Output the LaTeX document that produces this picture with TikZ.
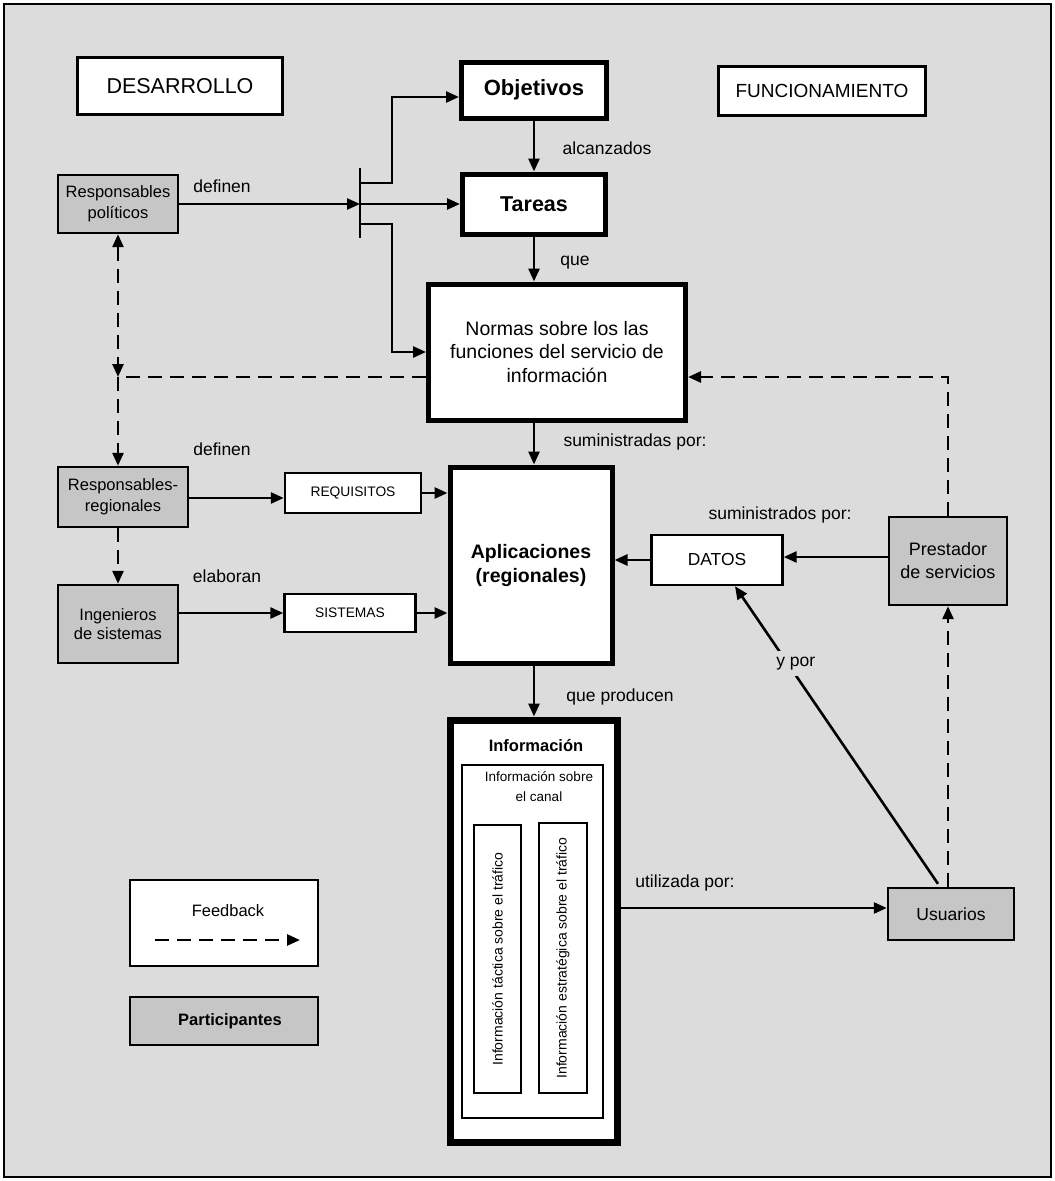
\documentclass[tikz,border=0pt]{standalone}
\usepackage{fontspec}
\setmainfont{Liberation Sans}
\usetikzlibrary{arrows.meta,calc}
\definecolor{bg}{HTML}{DCDCDC}
\definecolor{partc}{HTML}{C6C6C6}
\begin{document}
\begin{tikzpicture}[x=1pt,y=-1pt,
  box/.style={draw, fill=white, line width=2.4pt, inner sep=0pt, align=center},
  pbox/.style={box, fill=partc},
  tbox/.style={box, line width=5pt},
  arr/.style={line width=2.6pt, -{Triangle[length=13pt,width=11pt]}},
  fbline/.style={line width=2.6pt, dash pattern=on 14pt off 8pt},
  fb/.style={fbline, -{Triangle[length=13pt,width=11pt]}},
  fbboth/.style={fbline, {Triangle[length=13pt,width=11pt]}-{Triangle[length=13pt,width=11pt]}},
  lbl/.style={inner sep=1pt, font=\fontsize{17.5}{20}\selectfont}
]
\useasboundingbox (0,0) rectangle (1055,1181);
\fill[white] (0,0) rectangle (1055,1181);
\draw[fill=bg, line width=2pt] (4,4) rectangle (1051,1177);

% headers
\node[box, minimum width=205, minimum height=57, font=\fontsize{21.5}{24}\selectfont] (des) at (180,86) {DESARROLLO};
\node[box, minimum width=207, minimum height=49, font=\fontsize{19}{22}\selectfont] (fun) at (822,91) {FUNCIONAMIENTO};

% main column
\node[tbox, minimum width=145, minimum height=56, font=\bfseries\fontsize{22}{24}\selectfont] (obj) at (534,90) {Objetivos};
\node[tbox, minimum width=143, minimum height=60, font=\bfseries\fontsize{21.5}{24}\selectfont] (tar) at (534,204) {Tareas};
\node[tbox, minimum width=257, minimum height=136, font=\fontsize{19.5}{23.5}\selectfont] (nor) at (557,352) {Normas sobre los las\\funciones del servicio de\\información};
\node[tbox, minimum width=162, minimum height=196, font=\bfseries\fontsize{19.5}{24}\selectfont] (apl) at (531,565) {Aplicaciones\\(regionales)};

% participants
\node[pbox, minimum width=120, minimum height=58, font=\fontsize{16.5}{21}\selectfont] (rpol) at (118,204) {Responsables\\políticos};
\node[pbox, minimum width=130, minimum height=60, font=\fontsize{16.5}{21}\selectfont] (rreg) at (123,497) {Responsables-\\regionales};
\node[pbox, minimum width=120, minimum height=78, font=\fontsize{16.5}{19}\selectfont] (ing) at (118,624) {Ingenieros\\de sistemas};
\node[pbox, minimum width=118, minimum height=88, font=\fontsize{18}{23}\selectfont] (pre) at (948,561) {Prestador\\de servicios};
\node[pbox, minimum width=126, minimum height=52, font=\fontsize{17.5}{20}\selectfont] (usr) at (951,914) {Usuarios};

% small boxes
\node[box, minimum width=136, minimum height=40, font=\fontsize{13.8}{16}\selectfont] (req) at (353,493) {REQUISITOS};
\node[box, minimum width=131, minimum height=38, font=\fontsize{13.8}{16}\selectfont] (sis) at (350,613) {SISTEMAS};
\node[box, minimum width=131, minimum height=50, font=\fontsize{17.4}{20}\selectfont] (dat) at (717,560) {DATOS};

% Información
\node[box, line width=7pt, minimum width=167, minimum height=422] (inf) at (533.5,931) {};
\node[inner sep=0pt, font=\bfseries\fontsize{16.5}{20}\selectfont] (inft) at (536,746) {Información};
\node[box, minimum width=141, minimum height=353] (can) at (532.5,941.5) {};
\node[inner sep=0pt, align=center, font=\fontsize{13.5}{20}\selectfont] (cant) at (539,787) {Información sobre\\el canal};
\node[box, rotate=90, minimum width=268, minimum height=47, font=\fontsize{14}{16}\selectfont] (tac) at (497.5,959) {Información táctica sobre el tráfico};
\node[box, rotate=90, minimum width=270, minimum height=48, font=\fontsize{14}{16}\selectfont] (est) at (563,958) {Información estratégica sobre el tráfico};

% legend
\node[box, minimum width=188, minimum height=86] (leg) at (224,923) {};
\node[inner sep=0pt, font=\fontsize{16.5}{20}\selectfont] (legt) at (228,911) {Feedback};
\coordinate (la) at (155,940);
\coordinate (lb) at (300,940);
\draw[fb] (la) -- (lb);
\node[pbox, minimum width=188, minimum height=48, font=\bfseries\fontsize{16.5}{20}\selectfont] (par) at (224,1021) {\hspace*{12pt}Participantes};

% T-bar
\coordinate (bar) at (360,204);
\coordinate (bar1) at (360,183);
\coordinate (bar3) at (360,224);
\draw[line width=2.4pt] (360,168) -- (360,238);
\draw[arr] (rpol.east) -- (bar);
\draw[arr] (bar) -- (tar.west);
\draw[arr] (bar1) -| (392,97) -- (obj.west |- 0,97);
\draw[arr] (bar3) -| (392,352) -- (nor.west |- 0,352);

% vertical chain
\draw[arr] (obj.south) -- (obj.south |- tar.north);
\draw[arr] (tar.south) -- (tar.south |- nor.north);
\draw[arr] (tar.south |- nor.south) -- (tar.south |- apl.north);
\draw[arr] (tar.south |- apl.south) -- (tar.south |- inf.north);

% left side
\coordinate (j) at (118,377);
\draw[fbboth] (rpol.south) -- (j);
\draw[fbline] (nor.west |- j) -- (j);
\draw[fb] (j) -- (j |- rreg.north);
\draw[fb] (j |- rreg.south) -- (j |- ing.north);
\draw[arr] (rreg.east |- 0,498) -- (req.west |- 0,498);
\draw[arr] (req.east) -- (apl.west |- req.east);
\draw[arr] (ing.east |- sis.west) -- (sis.west);
\draw[arr] (sis.east) -- (apl.west |- sis.east);

% right side
\draw[arr] (pre.west |- 0,557) -- (dat.east |- 0,557);
\draw[arr] (dat.west) -- (apl.east |- dat.west);
\draw[fb] (pre.north) -- (pre.north |- j) -- (nor.east |- j);
\draw[fb] (pre.south |- usr.north) -- (pre.south);
\draw[arr] ($(usr.north)+(-13,-3)$) -- node[pos=0.74, fill=bg, inner sep=6pt, xshift=8pt, font=\fontsize{17.5}{20}\selectfont] (ypor) {y por} ($(dat.south)+(18,0)$);
\draw[arr] (inf.east |- 0,908) -- (usr.west |- 0,908);

% labels
\node[lbl] (l1) at (222,186) {definen};
\node[lbl] (l2) at (607,148) {alcanzados};
\node[lbl] (l3) at (575,263) {que};
\node[lbl] (l4) at (635,442) {suministradas por:};
\node[lbl] (l5) at (222,449) {definen};
\node[lbl] (l6) at (227,576) {elaboran};
\node[lbl] (l7) at (780,515) {suministrados por:};
\node[lbl] (l8) at (620,697) {que producen};
\node[lbl] (l9) at (685,883) {utilizada por:};
\end{tikzpicture}
\end{document}
